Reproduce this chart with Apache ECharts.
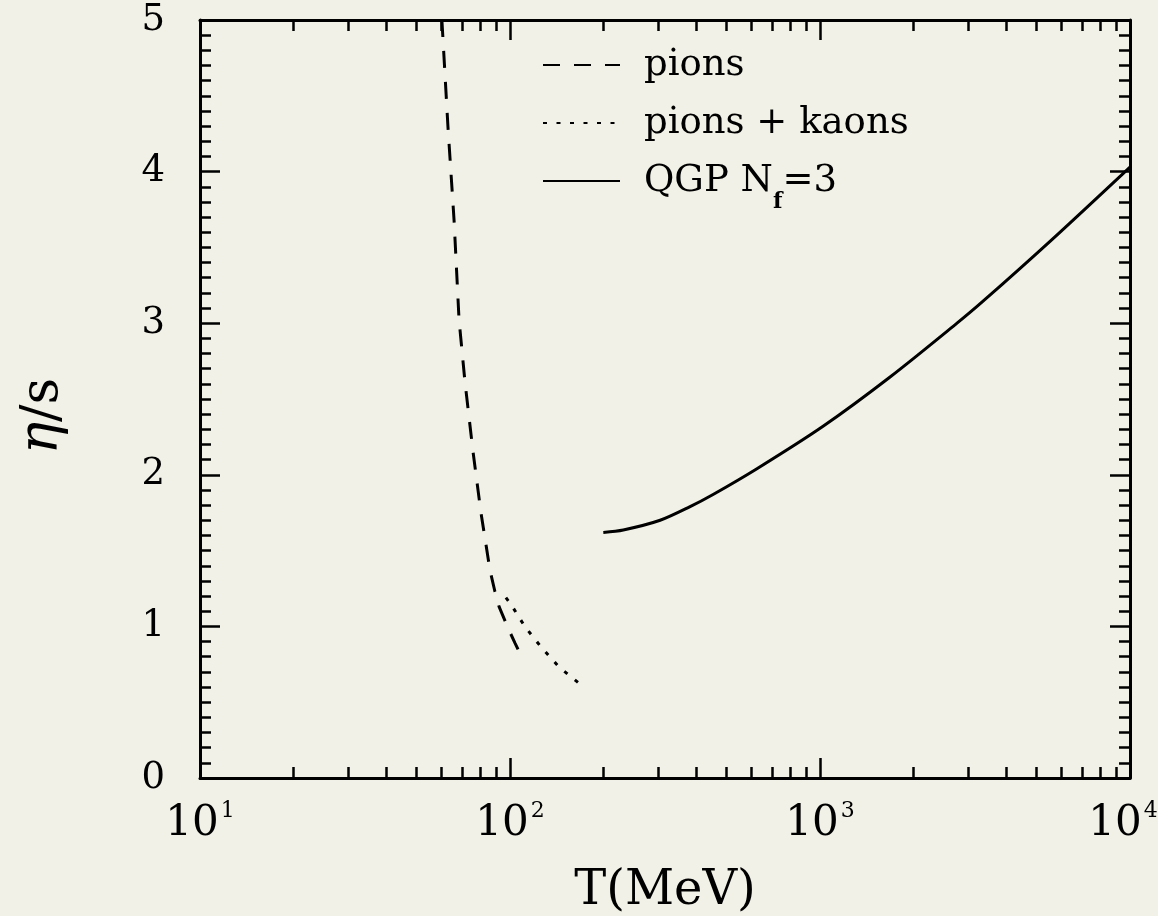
<!DOCTYPE html>
<html style="height: 100%">
<head>
<meta charset="utf-8">
<script type="text/javascript" src="https://cdn.jsdelivr.net/npm/echarts@6/dist/echarts.min.js"></script>
<script type="text/javascript">
// values, T in MeV
var pionT   = [60.3, 63.1, 66.0, 68.5, 71.6, 75.9, 80.6, 86.2, 89.4, 92.2, 98.5, 103.8, 110.1];
var pionEta = [5.00, 4.29, 3.68, 3.02, 2.61, 2.16, 1.75, 1.37, 1.23, 1.13, 0.99, 0.89, 0.78];

var kaonT   = [97.0, 100.5, 112.1, 126.6, 144.2, 168.6];
var kaonEta = [1.19, 1.148, 0.994, 0.859, 0.730, 0.618];

var qgpT   = [200, 232, 305, 381, 452, 626, 1023, 1683, 2767, 3336, 5521, 10000];
var qgpEta = [1.62, 1.636, 1.70, 1.79, 1.87, 2.04, 2.32, 2.645, 3.00, 3.14, 3.54, 4.03];

var seriesNames = ['pions', 'pions + kaons', 'QGP N_f=3'];
var xTickPowers = [1, 2, 3, 4];
var yTicks = [0, 1, 2, 3, 4, 5];

var FONT = 'DejaVu Serif';
var BG = '#f2f1e7';

function pairs(x, y) {
    var out = [];
    for (var i = 0; i < x.length; i++) {
        out.push([x[i], y[i]]);
    }
    return out;
}

// minor ticks of the log axis, 2..9 in each decade (log10 positions)
function minorLogTicks() {
    var v = [];
    for (var p = xTickPowers[0]; p < xTickPowers[xTickPowers.length - 1]; p++) {
        for (var k = 2; k <= 9; k++) {
            v.push(Math.log10(k * Math.pow(10, p)));
        }
    }
    return v;
}

function minorAxis(pos) {
    return {
        type: 'value',
        position: pos,
        min: xTickPowers[0],
        max: xTickPowers[xTickPowers.length - 1],
        axisLine: {show: false, onZero: false},
        axisTick: {
            show: true, inside: true, length: 11,
            customValues: minorLogTicks(),
            lineStyle: {color: '#000', width: 2.5}
        },
        axisLabel: {show: false},
        splitLine: {show: false}
    };
}

// legend label: main text in style m, "_f" as a lowered subscript.
// rows without subscript get a blank sub token so every row has the same height
function legendLabel(name) {
    var parts = name.split('_');
    if (parts.length === 1) {
        return '{m|' + name + '}{sub| }';
    }
    return '{m|' + parts[0] + '}{sub|' + parts[1].charAt(0) + '}{m|' + parts[1].slice(1) + '}';
}

function getOption() {
    var lineStyle = {color: '#000', width: 3};
    var lastPow = xTickPowers[xTickPowers.length - 1];
    return {
        backgroundColor: BG,
        animation: false,
        grid: {left: 200, top: 20, right: 28, bottom: 138, outerBoundsMode: 'none', containLabel: false},
        legend: {
            orient: 'vertical',
            left: 537,
            top: 28,
            itemWidth: 77,
            itemHeight: 14,
            itemGap: -6,
            data: seriesNames,
            itemStyle: {opacity: 0},
            formatter: legendLabel,
            textStyle: {
                fontFamily: FONT, fontSize: 37, color: '#000',
                padding: [0, 0, 0, 19],
                rich: {
                    m: {fontFamily: FONT, fontSize: 37, color: '#000', lineHeight: 64, verticalAlign: 'middle'},
                    sub: {fontFamily: FONT, fontSize: 22, fontWeight: 'bold', color: '#000',
                          lineHeight: 22, verticalAlign: 'bottom', padding: [42, 0, 0, 0]}
                }
            }
        },
        xAxis: [{
            type: 'log',
            logBase: 10,
            min: Math.pow(10, xTickPowers[0]),
            max: Math.pow(10, lastPow),
            interval: 1,
            position: 'bottom',
            name: 'T(MeV)',
            nameLocation: 'middle',
            nameGap: 90,
            nameTextStyle: {fontFamily: FONT, fontSize: 48, color: '#000'},
            axisLine: {show: true, onZero: false, lineStyle: lineStyle},
            axisTick: {show: true, inside: true, length: 20, lineStyle: {color: '#000', width: 2.5}},
            axisLabel: {
                margin: 24,
                formatter: function (v) {
                    var p = Math.round(Math.log10(v));
                    var s = '{b|10}{s|' + p + '}';
                    if (p === lastPow) {
                        s += '{e|}';
                    }
                    return s;
                },
                rich: {
                    b: {fontFamily: FONT, fontSize: 42, color: '#000', lineHeight: 44},
                    s: {fontFamily: FONT, fontSize: 22, color: '#000', lineHeight: 22,
                        verticalAlign: 'bottom', padding: [0, 0, 24, 2]},
                    e: {width: 14}
                }
            },
            splitLine: {show: false}
        }, {
            type: 'log',
            logBase: 10,
            min: Math.pow(10, xTickPowers[0]),
            max: Math.pow(10, lastPow),
            interval: 1,
            position: 'top',
            axisLine: {show: true, onZero: false, lineStyle: lineStyle},
            axisTick: {show: true, inside: true, length: 20, lineStyle: {color: '#000', width: 2.5}},
            axisLabel: {show: false},
            splitLine: {show: false}
        },
        minorAxis('bottom'),
        minorAxis('top')],
        yAxis: [{
            type: 'value',
            min: yTicks[0],
            max: yTicks[yTicks.length - 1],
            interval: 1,
            position: 'left',
            name: '{i|η}/s',
            nameLocation: 'middle',
            nameGap: 130,
            nameRotate: 90,
            nameTextStyle: {
                fontFamily: FONT, fontSize: 52, color: '#000',
                padding: [0, 34, 0, 0],
                rich: {i: {fontFamily: FONT, fontSize: 54, fontStyle: 'italic', color: '#000'}}
            },
            axisLine: {show: true, onZero: false, lineStyle: lineStyle},
            axisTick: {show: true, inside: true, length: 20, lineStyle: {color: '#000', width: 2.5}},
            minorTick: {show: true, splitNumber: 10, length: 11, lineStyle: {color: '#000', width: 2.5}},
            axisLabel: {margin: 35, fontFamily: FONT, fontSize: 37, color: '#000'},
            splitLine: {show: false},
            minorSplitLine: {show: false}
        }, {
            type: 'value',
            min: yTicks[0],
            max: yTicks[yTicks.length - 1],
            interval: 1,
            position: 'right',
            axisLine: {show: true, onZero: false, lineStyle: lineStyle},
            axisTick: {show: true, inside: true, length: 20, lineStyle: {color: '#000', width: 2.5}},
            minorTick: {show: true, splitNumber: 10, length: 11, lineStyle: {color: '#000', width: 2.5}},
            axisLabel: {show: false},
            splitLine: {show: false},
            minorSplitLine: {show: false}
        }],
        series: [{
            name: seriesNames[0],
            type: 'line',
            symbol: 'none',
            lineStyle: {color: '#000', width: 3, type: [17, 14]},
            data: pairs(pionT, pionEta)
        }, {
            name: seriesNames[1],
            type: 'line',
            symbol: 'none',
            lineStyle: {color: '#000', width: 3, type: [4, 9.5]},
            data: pairs(kaonT, kaonEta)
        }, {
            name: seriesNames[2],
            type: 'line',
            symbol: 'none',
            smooth: 0.3,
            lineStyle: {color: '#000', width: 3, type: 'solid'},
            data: pairs(qgpT, qgpEta)
        }]
    };
}
</script>
</head>
<body style="height: 100%; margin: 0; background: #f2f1e7">
<div id="container" style="width: 1158px; height: 916px"></div>
<script type="text/javascript">
var myChart = echarts.init(document.getElementById('container'));
myChart.setOption(getOption(), true);
</script>
</body>
</html>
